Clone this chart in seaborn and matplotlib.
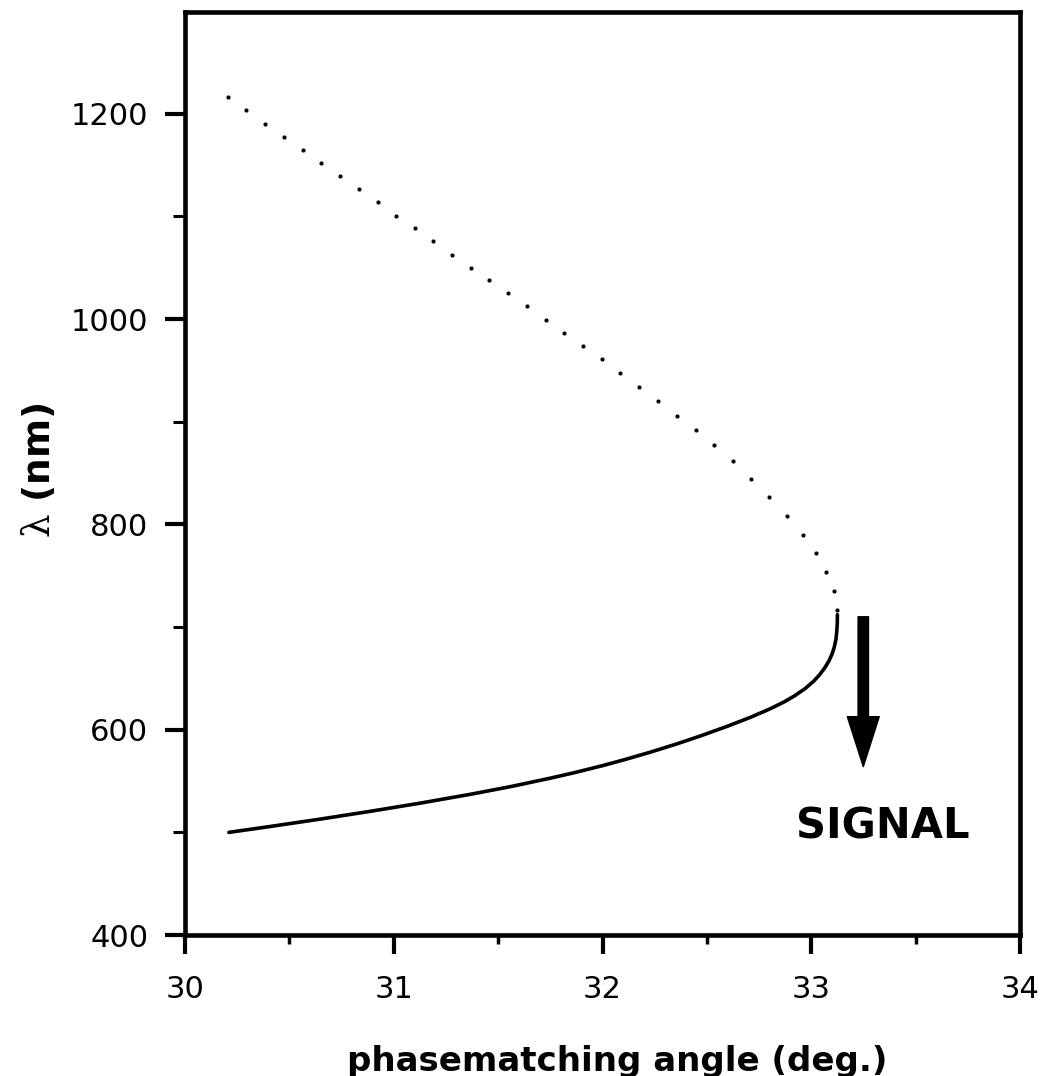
import matplotlib
matplotlib.use("Agg")
import matplotlib.pyplot as plt
from matplotlib.ticker import MultipleLocator
import seaborn as sns
import pandas as pd

# ---- data ----
# signal branch (solid line): phasematching angle (deg.) vs wavelength (nm)
signal_angle = [30.21, 30.41, 30.65, 30.89, 31.13, 31.37, 31.56, 31.75, 31.87, 32.00,
                32.11, 32.23, 32.35, 32.47, 32.60, 32.71, 32.80, 32.87, 32.92, 32.97,
                33.010, 33.040, 33.065, 33.085, 33.100, 33.110, 33.118, 33.122, 33.1245,
                33.125]
signal_lambda = [500.0, 505.8, 513.0, 520.6, 528.6, 537.2, 544.6, 552.8, 558.4, 565.0,
                 571.1, 578.2, 585.8, 594.0, 603.5, 612.2, 620.1, 627.1, 633.0, 640.0,
                 647.0, 653.6, 660.4, 667.2, 674.0, 680.4, 688.0, 695.6, 704.0,
                 712.0]

# idler branch (dotted): positions of the printed dots
idler_angle = [30.205, 30.294, 30.383, 30.473, 30.564, 30.653, 30.743, 30.834, 30.923,
               31.012, 31.100, 31.190, 31.279, 31.369, 31.458, 31.547, 31.638, 31.728,
               31.817, 31.907, 31.996, 32.085, 32.175, 32.264, 32.355, 32.446, 32.533,
               32.625, 32.713, 32.799, 32.885, 32.960, 33.023, 33.072, 33.108, 33.125]
idler_lambda = [1215.9, 1203.2, 1190.3, 1177.6, 1164.7, 1152.0, 1139.4, 1126.3, 1113.7,
                1100.7, 1088.4, 1075.7, 1062.8, 1050.1, 1037.8, 1025.1, 1012.5, 999.5,
                986.6, 973.5, 960.9, 947.6, 934.0, 920.2, 905.8, 891.8, 877.2,
                861.3, 844.1, 826.3, 808.5, 790.0, 771.8, 753.3, 734.8, 717.0]

x_major_ticks = [30, 31, 32, 33, 34]
y_major_ticks = [400, 600, 800, 1000, 1200]
x_label = "phasematching angle (deg.)"
y_label = r"$\mathrm{\lambda}$ (nm)"
annotation_text = "SIGNAL"
arrow_start = (33.249, 710)
arrow_end = (33.249, 564)
text_pos = (33.341, 506)

# ---- style ----
sns.set_theme(style="ticks")
plt.rcParams["font.family"] = ["DejaVu Sans"]
plt.rcParams["mathtext.fontset"] = "dejavuserif"

fig = plt.figure(figsize=(10.46, 10.76), dpi=100)
ax = fig.add_axes([0.1769, 0.1310, 0.7983, 0.8578])

sig_df = pd.DataFrame({"angle": signal_angle, "lam": signal_lambda})
idl_df = pd.DataFrame({"angle": idler_angle, "lam": idler_lambda})

sns.lineplot(data=sig_df, x="angle", y="lam", sort=False, estimator=None,
             color="black", lw=2.6, ax=ax)
for ln in ax.lines:
    ln.set_solid_joinstyle("round")
    ln.set_solid_capstyle("round")
sns.scatterplot(data=idl_df, x="angle", y="lam", color="black", s=9,
                linewidth=0, ax=ax)

ax.set_xlim(30, 34)
ax.set_ylim(400, 1299)
ax.set_xticks(x_major_ticks)
ax.set_yticks(y_major_ticks)
ax.xaxis.set_minor_locator(MultipleLocator(0.5))
ax.yaxis.set_minor_locator(MultipleLocator(100))

for s in ax.spines.values():
    s.set_linewidth(3.3)
    s.set_color("black")
    s.set_capstyle("projecting")

ax.tick_params(axis="both", which="major", direction="out", width=3.0,
               color="black", labelsize=22, labelcolor="black")
ax.tick_params(axis="y", which="major", length=14.5, pad=12)
ax.tick_params(axis="x", which="major", length=13.5, pad=15)
ax.tick_params(axis="y", which="minor", direction="out", length=8.5, width=2.2, color="black")
ax.tick_params(axis="x", which="minor", direction="out", length=6.5, width=2.5, color="black")

ax.set_xlabel(x_label, fontsize=24.5, fontweight="bold", color="black")
ax.xaxis.set_label_coords(0.517, -0.119)
ax.set_ylabel(y_label, fontsize=27, fontweight="bold", color="black")
ax.yaxis.set_label_coords(-0.152, 0.504)

ax.annotate("", xy=arrow_end, xytext=arrow_start,
            arrowprops=dict(width=7.5, headwidth=23, headlength=36, shrink=0,
                            facecolor="black", edgecolor="black", joinstyle="round"))
ax.text(text_pos[0], text_pos[1], annotation_text, fontsize=30, fontweight="bold",
        ha="center", va="center", color="black")

fig.savefig("out.png", dpi=100, facecolor="white")
